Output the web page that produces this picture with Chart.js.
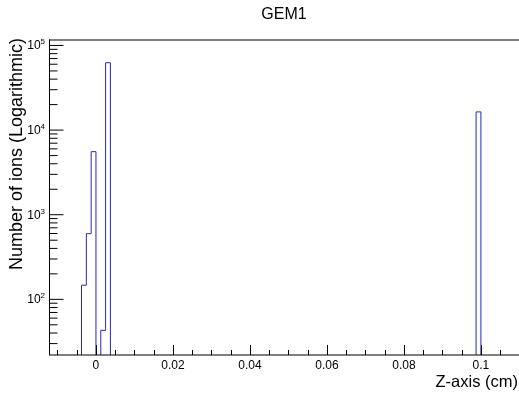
<!DOCTYPE html>
<html>
<head>
<meta charset="utf-8">
<script src="https://cdn.jsdelivr.net/npm/chart.js@4.4.1/dist/chart.umd.min.js"></script>
<style>
  html, body { margin: 0; padding: 0; background: #fff; }
  #wrap { position: relative; width: 519px; height: 399px; }
</style>
</head>
<body>
<div id="wrap"><canvas id="chart"></canvas></div>
<script>
// histogram bins (low edge, cm) and counts
const binLow = [-0.005, -0.00375, -0.0025, -0.00125, 0, 0.00125, 0.0025, 0.00375, 0.09875, 0.1];
const counts = [0, 147, 598, 5560, 0, 43, 62500, 0, 16400, 0];

// axis ranges and tick labels
const xRange = [-0.0122, 0.1099];
const yRange = [22, 116000];
const xMajor = [0, 0.02, 0.04, 0.06, 0.08, 0.1];
const xLabels = ['0', '0.02', '0.04', '0.06', '0.08', '0.1'];
const yDecades = [2, 3, 4, 5];

const title = 'GEM1';
const xTitle = 'Z-axis (cm)';
const yTitle = 'Number of ions (Logarithmic)';

const FONT = '"Liberation Sans", Arial, Helvetica, sans-serif';

// empty bins sit below the axis minimum so they are clipped away like in ROOT
const points = binLow.map((x, i) => ({ x: x, y: counts[i] > 0 ? counts[i] : 1 }));

const rootFrame = {
  id: 'rootFrame',
  afterDatasetsDraw(chart) {
    const { ctx, chartArea: a, scales: { x, y } } = chart;
    ctx.save();

    // frame
    ctx.strokeStyle = '#000';
    ctx.lineWidth = 1;
    ctx.beginPath();
    ctx.moveTo(a.left, 40); ctx.lineTo(a.right, 40);
    ctx.moveTo(a.left, 355); ctx.lineTo(a.right, 355);
    ctx.stroke();
    ctx.beginPath();
    ctx.moveTo(49.5, 39.5); ctx.lineTo(49.5, 355);
    ctx.stroke();

    // x ticks, pointing inward
    ctx.beginPath();
    for (let v = -0.01; v <= xRange[1] + 1e-9; v += 0.005) {
      const px = Math.round(x.getPixelForValue(v)) + 0.5;
      const major = Math.abs(v / 0.02 - Math.round(v / 0.02)) < 1e-6;
      ctx.moveTo(px, 355);
      ctx.lineTo(px, 355 - (major ? 10 : 5));
    }
    ctx.stroke();

    // y ticks: 1..9 per decade
    ctx.beginPath();
    for (let e = 1; e <= 5; e++) {
      for (let m = 1; m <= 9; m++) {
        const v = m * Math.pow(10, e);
        if (v < yRange[0] || v > yRange[1]) continue;
        const py = y.getPixelForValue(v);
        ctx.moveTo(49.5, py);
        ctx.lineTo(49.5 + (m === 1 ? 14 : 8), py);
      }
    }
    ctx.stroke();

    // x tick labels
    ctx.fillStyle = '#000';
    ctx.font = '12px ' + FONT;
    ctx.textAlign = 'center';
    ctx.textBaseline = 'alphabetic';
    xMajor.forEach((v, i) => {
      ctx.fillText(xLabels[i], x.getPixelForValue(v), 369);
    });

    // y tick labels 10^n
    yDecades.forEach(e => {
      const py = y.getPixelForValue(Math.pow(10, e));
      ctx.font = '8px ' + FONT;
      ctx.textAlign = 'right';
      const sup = String(e);
      const supW = ctx.measureText(sup).width;
      ctx.fillText(sup, 45, py - 1);
      ctx.font = '12px ' + FONT;
      ctx.fillText('10', 45 - supW, py + 4);
    });

    // titles
    ctx.font = '16px ' + FONT;
    ctx.textAlign = 'center';
    ctx.fillText(title, (a.left + a.right) / 2, 19);

    ctx.font = '16.5px ' + FONT;
    ctx.textAlign = 'right';
    ctx.fillText(xTitle, 518, 387);

    ctx.save();
    ctx.translate(22, 154);
    ctx.rotate(-Math.PI / 2);
    ctx.font = '18px ' + FONT;
    ctx.textAlign = 'center';
    ctx.fillText(yTitle, 0, 0);
    ctx.restore();

    ctx.restore();
  }
};

new Chart(document.getElementById('chart'), {
  type: 'line',
  data: {
    datasets: [{
      data: points,
      stepped: 'before',
      borderColor: 'rgb(40,40,185)',
      borderWidth: 1,
      pointRadius: 0,
      fill: false,
      tension: 0
    }]
  },
  options: {
    responsive: true,
    maintainAspectRatio: false,
    animation: false,
    events: [],
    layout: { padding: { left: 49, right: 0, top: 40, bottom: 44 } },
    plugins: {
      legend: { display: false },
      title: { display: false },
      tooltip: { enabled: false }
    },
    scales: {
      x: {
        type: 'linear',
        min: xRange[0],
        max: xRange[1],
        display: false
      },
      y: {
        type: 'logarithmic',
        min: yRange[0],
        max: yRange[1],
        display: false
      }
    }
  },
  plugins: [rootFrame]
});
</script>
</body>
</html>
